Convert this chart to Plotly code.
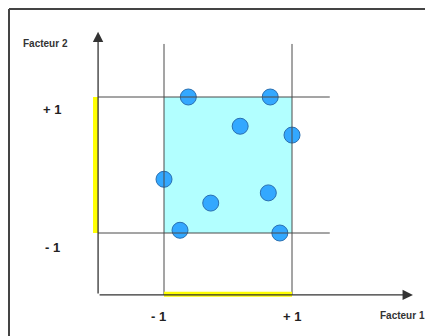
"""Plan d'expériences 2 facteurs : domaine d'étude et points"""

import plotly.graph_objects as go

# points d'expérience (unités codées)
pts_x = [-0.62, 0.66, 0.19, 1.0, -1.0, -0.27, 0.63, -0.75, 0.81]
pts_y = [1.0, 1.0, 0.57, 0.44, -0.21, -0.56, -0.41, -0.96, -1.0]

# niveaux et libellés
levels = [-1, 1]
level_labels = ["- 1", "+ 1"]
axis_titles = ["Facteur 1", "Facteur 2"]

# origine et extrémités des axes
x0, y0 = -2.03, -1.91
x_tip, y_tip = 2.89, 1.96
grid_x_end, grid_y_end = 1.59, 1.78

LINE = "#4a4a4a"
W, H = 425, 328  # la page ajoute 8 px de marge en haut et à gauche

fig = go.Figure()

# domaine d'étude (cyan)
fig.add_shape(type="rect", x0=levels[0], x1=levels[1], y0=levels[0], y1=levels[1],
              fillcolor="#b2ffff", line_width=0, layer="below")

# lignes des niveaux
for v in levels:
    fig.add_shape(type="line", x0=v, x1=v, y0=y0, y1=grid_y_end, line=dict(color=LINE, width=1))
    fig.add_shape(type="line", x0=x0, x1=grid_x_end, y0=v, y1=v, line=dict(color=LINE, width=1))

# plages de variation (jaune)
fig.add_shape(type="line", x0=x0 - 0.04, x1=x0 - 0.04, y0=levels[0], y1=levels[1],
              line=dict(color="#ffff00", width=5))
fig.add_shape(type="line", x0=levels[0], x1=levels[1], y0=y0 + 0.01, y1=y0 + 0.01,
              line=dict(color="#ffff00", width=5))

# axes avec flèches
fig.add_annotation(x=x_tip, y=y0, ax=x0, ay=y0, xref="x", yref="y", axref="x", ayref="y",
                   text="", showarrow=True, arrowhead=2, arrowsize=1.6, arrowwidth=1.3, arrowcolor="#333")
fig.add_annotation(x=x0, y=y_tip, ax=x0, ay=y0, xref="x", yref="y", axref="x", ayref="y",
                   text="", showarrow=True, arrowhead=2, arrowsize=1.6, arrowwidth=1.3, arrowcolor="#333")

fig.add_trace(go.Scatter(
    x=pts_x, y=pts_y, mode="markers",
    marker=dict(size=16, color="#33a8ff", line=dict(color="#2a6fb0", width=1)),
    hoverinfo="skip",
))

font = dict(family="Arial, Liberation Sans", size=13, color="#222")
for v, lab in zip(levels, level_labels):
    fig.add_annotation(x=v * 1.04 - 0.04, y=-2.23, text=f"<b>{lab}</b>", showarrow=False, font=font)
    fig.add_annotation(x=-2.75, y=v - 0.18 - (0.04 if v < 0 else 0), text=f"<b>{lab}</b>",
                       showarrow=False, font=font)

tfont = dict(family="Arial, Liberation Sans", size=10, color="#333")
fig.add_annotation(x=2.73, y=-2.22, text=f"<b>{axis_titles[0]}</b>", showarrow=False, font=tfont)
fig.add_annotation(x=-2.85, y=1.79, text=f"<b>{axis_titles[1]}</b>", showarrow=False, font=tfont)

# cadre (haut et gauche)
fig.add_shape(type="line", xref="paper", yref="paper", x0=1 / W, x1=1, y0=1 - 1 / H, y1=1 - 1 / H,
              line=dict(color="#444", width=2))
fig.add_shape(type="line", xref="paper", yref="paper", x0=1 / W, x1=1 / W, y0=0, y1=1 - 1 / H,
              line=dict(color="#444", width=2))

fig.update_xaxes(range=[-220 / 64, (W - 220) / 64], visible=False)
fig.update_yaxes(range=[(157 - H) / 68, 157 / 68], visible=False)
fig.update_layout(width=W, height=H, margin=dict(l=0, r=0, t=0, b=0),
                  plot_bgcolor="white", paper_bgcolor="white", showlegend=False)

fig.write_html("out.html")
